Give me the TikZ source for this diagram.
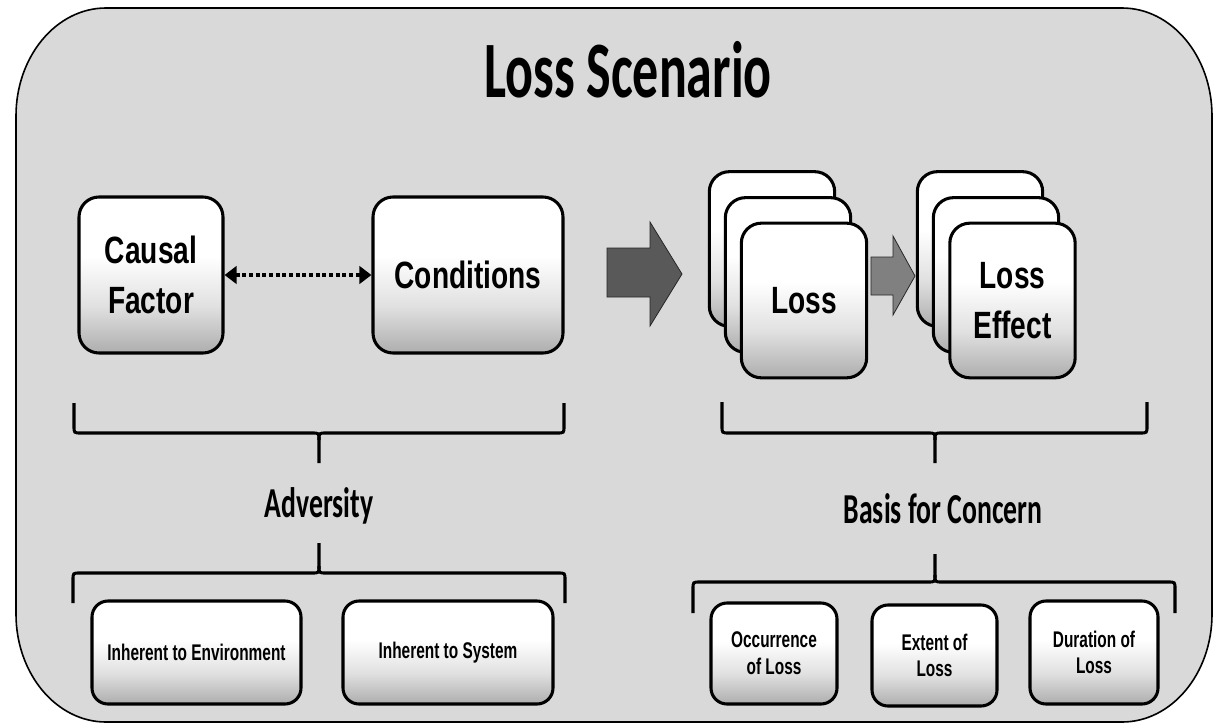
\documentclass[tikz,border=0pt]{standalone}
\usepackage{fontspec}
\usetikzlibrary{arrows.meta}
\newfontfamily\ArN[FakeStretch=0.74]{Liberation Sans}
\newfontfamily\ArS[FakeStretch=0.68]{Liberation Sans}
\newfontfamily\CalF[FakeStretch=0.65]{Carlito}
\pgfdeclareverticalshading{boxshade}{100bp}{color(0bp)=(black!32); color(25bp)=(black!32); color(40bp)=(black!12); color(56bp)=(white); color(100bp)=(white)}
% brace with ends up, tip down: x1, x2, xc, ytop, ymid, ytip
\newcommand\braceDown[6]{%
  \draw[brline] (#1,#4) -- (#1,{#5-7}) .. controls (#1,#5) .. ({#1+7},#5) -- ({#3-7},#5) .. controls (#3,#5) .. (#3,{#5+7}) -- (#3,#6);
  \draw[brline] (#2,#4) -- (#2,{#5-7}) .. controls (#2,#5) .. ({#2-7},#5) -- ({#3+7},#5) .. controls (#3,#5) .. (#3,{#5+7});}
% brace with ends down, tip up: x1, x2, xc, ybot, ymid, ytip
\newcommand\braceUp[6]{%
  \draw[brline] (#1,#4) -- (#1,{#5+7}) .. controls (#1,#5) .. ({#1+7},#5) -- ({#3-7},#5) .. controls (#3,#5) .. (#3,{#5-7}) -- (#3,#6);
  \draw[brline] (#2,#4) -- (#2,{#5+7}) .. controls (#2,#5) .. ({#2-7},#5) -- ({#3+7},#5) .. controls (#3,#5) .. (#3,{#5-7});}
\begin{document}
\begin{tikzpicture}[x=0.75pt,y=-0.75pt,
  card/.style={draw, line width=2.3pt, rounded corners=15pt, shading=boxshade, inner sep=0pt, align=center},
  bigtxt/.style={font=\ArN\bfseries\fontsize{28.5}{37.5}\selectfont},
  smalltxt/.style={font=\ArS\bfseries\fontsize{17}{20}\selectfont, rounded corners=12pt},
  calt/.style={font=\CalF\bfseries\fontsize{32}{38}\selectfont, inner sep=0pt},
  brline/.style={line width=2.3pt},
  blockarrow/.style={draw=black!85, line width=0.6pt},
  dotarrow/.style={line width=3pt, dash pattern=on 3pt off 2pt, {Triangle[length=9pt,width=13pt]}-{Triangle[length=9pt,width=13pt]}}
]
\useasboundingbox (0,0) rectangle (1213,725);
% outer panel
\draw[fill=black!15, line width=1.2pt]
  (106,8) -- (1122,8) arc[start angle=-90,end angle=0,x radius=90,y radius=108]
  -- (1212,614) arc[start angle=0,end angle=90,x radius=90,y radius=108]
  -- (106,722) arc[start angle=90,end angle=180,x radius=90,y radius=108]
  -- (16,116) arc[start angle=180,end angle=270,x radius=90,y radius=108] -- cycle;

\node[calt, font=\CalF\bfseries\fontsize{60}{72}\selectfont, anchor=base] (title) at (628,97) {Loss Scenario};

% left group
\node[card, bigtxt, minimum width=108pt, minimum height=117pt] (cf) at (151,275) {Causal\\Factor};
\node[card, bigtxt, minimum width=142.5pt, minimum height=117pt] (cond) at (468,275) {Conditions};
\draw[dotarrow] (cf.east) -- (cond.west);

% big arrow
\draw[blockarrow, fill=black!65] (607,248) -- (650,248) -- (650,222) -- (682,274) -- (650,326) -- (650,297) -- (607,297) -- cycle;

% loss stack
\node[card, bigtxt, minimum width=94pt, minimum height=116pt] (loss3) at (772,249) {};
\node[card, bigtxt, minimum width=94pt, minimum height=116pt] (loss2) at (788,275) {};
\node[card, bigtxt, minimum width=94pt, minimum height=116pt] (loss) at (804,300.5) {Loss};

% small arrow
\draw[blockarrow, fill=black!50] (871,257) -- (893,257) -- (893,236) -- (915,276) -- (893,315) -- (893,295) -- (871,295) -- cycle;

% loss effect stack
\node[card, bigtxt, minimum width=94pt, minimum height=116pt] (eff3) at (980,249) {};
\node[card, bigtxt, minimum width=94pt, minimum height=116pt] (eff2) at (996,275) {};
\node[card, bigtxt, minimum width=94pt, minimum height=116pt] (eff) at (1012.5,300.5) {Loss\\Effect};

% braces
\braceDown{74}{564}{319}{403}{433}{463}
\braceUp{73}{565}{319}{603}{573}{543}
\braceDown{722}{1147}{935}{402}{433}{463}
\braceUp{693}{1175}{935}{613}{582}{554}

\node[calt, anchor=base] (adv) at (319,517) {Adversity};
\node[calt, anchor=base] (basis) at (943,523) {Basis for Concern};

% bottom boxes
\node[card, smalltxt, minimum width=156.75pt, minimum height=77.25pt] (env) at (196.5,652.5) {Inherent to Environment};
\node[card, smalltxt, minimum width=157.5pt, minimum height=77.25pt] (sys) at (448,652.5) {Inherent to System};
\node[card, smalltxt, minimum width=94.5pt, minimum height=75.75pt] (occ) at (774,653.5) {Occurrence\\of Loss};
\node[card, smalltxt, minimum width=93.75pt, minimum height=75.75pt] (ext) at (934.5,655.5) {Extent of\\Loss};
\node[card, smalltxt, minimum width=96pt, minimum height=77.25pt] (dur) at (1094,652.5) {Duration of\\Loss};
\end{tikzpicture}
\end{document}
